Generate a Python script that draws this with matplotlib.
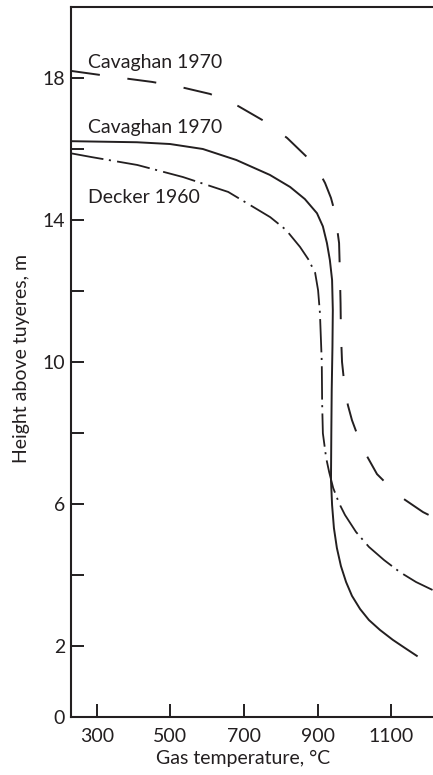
import matplotlib.pyplot as plt

plt.rcParams['font.family'] = ['Lato', 'DejaVu Sans']
plt.rcParams['lines.scale_dashes'] = False

ink = '#231f20'

# Cavaghan 1970 (dashed, upper)
cav_up_t = [230, 369, 450, 526, 608, 684, 754, 817, 876, 901, 920, 936, 947,
            958, 960, 962, 963, 966, 974, 982, 993, 1020, 1061, 1118, 1186, 1213]
cav_up_h = [18.21, 18.01, 17.90, 17.76, 17.56, 17.22, 16.80, 16.32, 15.73,
            15.42, 15.05, 14.63, 14.21, 13.36, 12.60, 11.67, 10.85, 10.01,
            9.22, 8.79, 8.37, 7.61, 6.85, 6.26, 5.78, 5.64]

# Cavaghan 1970 (solid)
cav_t = [229, 409, 499, 588, 679, 770, 825, 865, 898, 914, 925, 933, 939,
         941, 940, 938, 937, 936, 939, 944, 952, 963, 977, 993, 1015, 1039,
         1069, 1104, 1137, 1169]
cav_h = [16.23, 16.20, 16.15, 16.01, 15.70, 15.28, 14.94, 14.60, 14.20,
         13.83, 13.36, 12.88, 12.32, 11.47, 10.43, 9.22, 8.09, 6.68, 5.98,
         5.33, 4.77, 4.26, 3.81, 3.42, 3.05, 2.74, 2.46, 2.18, 1.95, 1.73]

# Decker 1960 (dash-dot)
dec_t = [229, 287, 410, 534, 657, 771, 814, 852, 874, 893, 901, 906, 911,
         912, 914, 923, 931, 942, 958, 974, 1004, 1039, 1080, 1123, 1167, 1213]
dec_h = [15.89, 15.78, 15.56, 15.22, 14.80, 14.09, 13.73, 13.25, 12.91,
         12.52, 12.03, 11.39, 10.01, 8.86, 8.00, 7.30, 6.91, 6.46, 6.03,
         5.70, 5.22, 4.80, 4.43, 4.09, 3.81, 3.58]

xticks = [300, 500, 700, 900, 1100]
yticks = [0, 2, 4, 6, 8, 10, 12, 14, 16, 18]
ylabels = ['0', '2', '', '6', '', '10', '', '14', '', '18']

fig = plt.figure(figsize=(4.33, 7.75), dpi=100)
ax = fig.add_axes([0.163, 0.0745, 0.837, 0.916])

ax.plot(cav_up_t, cav_up_h, color=ink, lw=1.4, dashes=(21, 20))
ax.plot(cav_t, cav_h, color=ink, lw=1.4)
ax.plot(dec_t, dec_h, color=ink, lw=1.3, dashes=(24, 4, 1.5, 4.5))

ax.text(276, 18.45, 'Cavaghan 1970', fontsize=14, color=ink, va='center')
ax.text(276, 16.62, 'Cavaghan 1970', fontsize=14, color=ink, va='center')
ax.text(276, 14.63, 'Decker 1960', fontsize=14, color=ink, va='center')

ax.set_xlim(229, 1213)
ax.set_ylim(0, 20)
ax.set_xticks(xticks)
ax.set_yticks(yticks)
ax.set_yticklabels(ylabels)

ax.spines['right'].set_visible(False)
for s in ['left', 'top', 'bottom']:
    ax.spines[s].set_linewidth(1.5)
    ax.spines[s].set_color(ink)

ax.tick_params(axis='both', direction='in', length=9.5, width=1.4,
               color=ink, labelcolor=ink, labelsize=14)
ax.tick_params(axis='x', pad=8)
ax.tick_params(axis='y', pad=4)

ax.set_xlabel('Gas temperature, °C', fontsize=14, color=ink)
ax.set_ylabel('Height above tuyeres, m', fontsize=14, color=ink)
ax.xaxis.set_label_coords(0.476, -0.046)
ax.yaxis.set_label_coords(-0.112, 0.506)

fig.savefig('out.png', dpi=100)
